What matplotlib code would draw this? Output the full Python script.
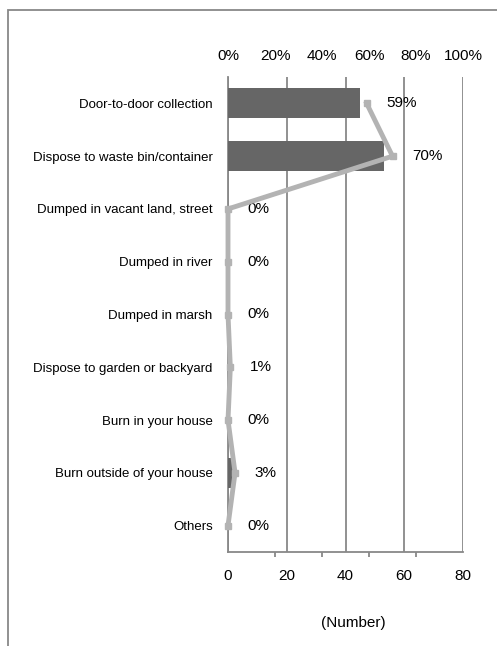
import matplotlib.pyplot as plt
import numpy as np
from matplotlib.patches import Rectangle

plt.rcParams['font.family'] = ['Liberation Sans', 'DejaVu Sans']

categories = ['Door-to-door collection', 'Dispose to waste bin/container',
              'Dumped in vacant land, street', 'Dumped in river', 'Dumped in marsh',
              'Dispose to garden or backyard', 'Burn in your house',
              'Burn outside of your house', 'Others']
counts = [45, 53, 0, 0, 0, 1, 0, 2, 0]
percent = [59, 70, 0, 0, 0, 1, 0, 3, 0]      # share of respondents (n = 76)
pct_labels = ['59%', '70%', '0%', '0%', '0%', '1%', '0%', '3%', '0%']

grid_col = '#888888'
bar_col = '#666666'
line_col = '#b3b3b3'

fig = plt.figure(figsize=(4.97, 6.46), dpi=100)
ax = fig.add_axes([228/497, 1-552/646, 235/497, 475/646])

y = np.arange(len(categories))
ax.barh(y, counts, height=0.57, color=bar_col, zorder=3)
ax.set_ylim(len(categories)-0.5, -0.5)
ax.set_xlim(0, 80)
ax.set_yticks(y)
ax.set_yticklabels(categories, fontsize=9.5)
ax.tick_params(axis='y', length=0, pad=11)

# labels every 20, tick marks every 16
ax.set_xticks([0, 20, 40, 60, 80])
ax.tick_params(axis='x', which='major', length=0, pad=12, labelsize=11)
ax.set_xticks(np.arange(0, 81, 16), minor=True)
ax.tick_params(axis='x', which='minor', length=3.5, width=1.3, color=grid_col)
ax.xaxis.grid(True, which='major', color=grid_col, lw=1.3, zorder=0)
ax.set_axisbelow(True)
for s in ['top', 'right']:
    ax.spines[s].set_visible(False)
for s in ['left', 'bottom']:
    ax.spines[s].set_color(grid_col)
    ax.spines[s].set_linewidth(1.3)

# percentage line on the top axis
ax2 = ax.twiny()
ax2.set_xlim(0, 100)
ax2.plot(percent, y, color=line_col, lw=3.5, marker='s', ms=5,
         solid_joinstyle='miter', zorder=5, clip_on=False)
for p, yy, t in zip(percent, y, pct_labels):
    ax2.annotate(t, (p, yy), xytext=(14, 0), textcoords='offset points',
                 ha='left', va='center', fontsize=11)
ax2.set_xticks(np.arange(0, 101, 20))
ax2.set_xticklabels([f'{v}%' for v in range(0, 101, 20)])
ax2.tick_params(axis='x', length=0, pad=10, labelsize=11)
for s in ax2.spines.values():
    s.set_visible(False)

fig.text(353/497, 1-623/646, '(Number)', ha='center', va='center', fontsize=11)

# outer frame
fig.add_artist(Rectangle((8/497, -0.1), 1.2, 0.1+1-10/646, transform=fig.transFigure,
                         fill=False, edgecolor=grid_col, lw=1.3))

fig.savefig('out.png', dpi=100)
